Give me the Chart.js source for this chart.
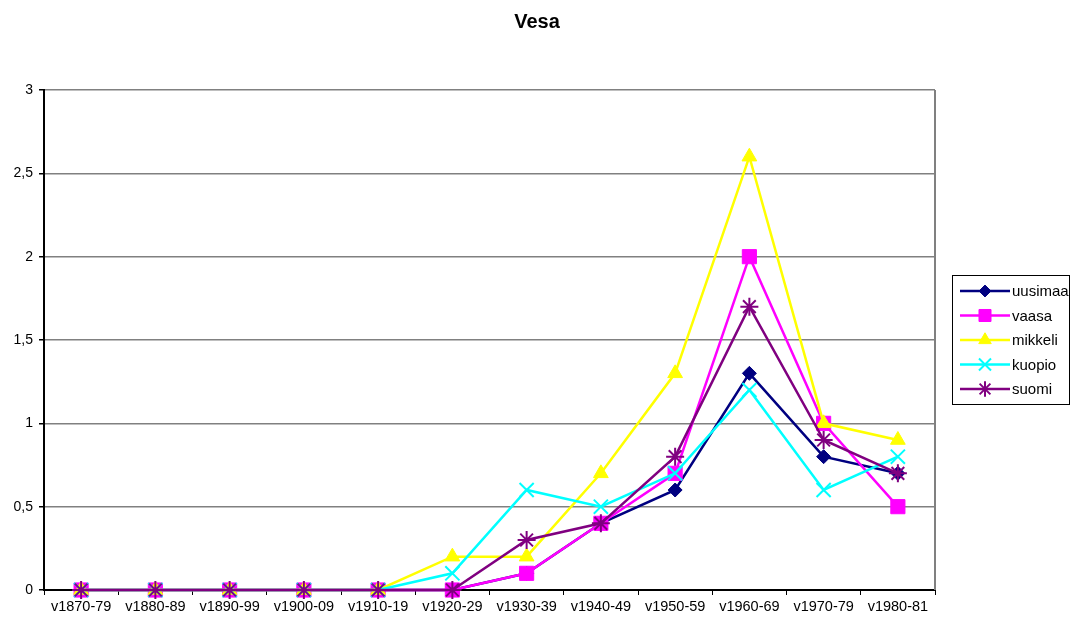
<!DOCTYPE html>
<html>
<head>
<meta charset="utf-8">
<title>Vesa</title>
<script src="https://cdn.jsdelivr.net/npm/chart.js@4/dist/chart.umd.min.js"></script>
<style>
  html, body { margin: 0; padding: 0; background: #fff; }
  #wrap { width: 1074px; height: 619px; }
</style>
</head>
<body>
<div id="wrap"><canvas id="vesaChart" width="1074" height="619"></canvas></div>
<script>
var categories = ["v1870-79", "v1880-89", "v1890-99", "v1900-09", "v1910-19", "v1920-29",
                  "v1930-39", "v1940-49", "v1950-59", "v1960-69", "v1970-79", "v1980-81"];
var uusimaa = [0, 0, 0, 0, 0, 0, 0.1, 0.4, 0.6, 1.3, 0.8, 0.7];
var vaasa   = [0, 0, 0, 0, 0, 0, 0.1, 0.4, 0.7, 2.0, 1.0, 0.5];
var mikkeli = [0, 0, 0, 0, 0, 0.2, 0.2, 0.7, 1.3, 2.6, 1.0, 0.9];
var kuopio  = [0, 0, 0, 0, 0, 0.1, 0.6, 0.5, 0.7, 1.2, 0.6, 0.8];
var suomi   = [0, 0, 0, 0, 0, 0, 0.3, 0.4, 0.8, 1.7, 0.9, 0.7];
var yTicks  = [0, 0.5, 1, 1.5, 2, 2.5, 3];

var FONT = "'Liberation Sans', Arial, sans-serif";

function series(label, data, color, style, radius, order) {
  return {
    label: label,
    data: data,
    borderColor: color,
    backgroundColor: color,
    borderWidth: 2.5,
    pointStyle: style,
    pointRadius: radius,
    pointHoverRadius: radius,
    pointBorderColor: color,
    pointBackgroundColor: color,
    pointBorderWidth: (style === 'crossRot' || style === 'star') ? 2 : 1,
    tension: 0,
    clip: false,
    order: order
  };
}

// boxed legend on the right: short line with the series marker, then the name
var sideLegend = {
  id: 'sideLegend',
  afterDraw: function(chart) {
    var ctx = chart.ctx;
    var x0 = chart.chartArea.right + 17, y0 = 275, w = 117, h = 129;
    ctx.save();
    ctx.strokeStyle = '#000';
    ctx.lineWidth = 1;
    ctx.strokeRect(x0 + 0.5, y0 + 0.5, w, h);
    ctx.font = '15px ' + FONT;
    ctx.textBaseline = 'middle';
    chart.data.datasets.forEach(function(ds, i) {
      var y = y0 + 16 + i * 24.5;
      ctx.strokeStyle = ds.borderColor;
      ctx.lineWidth = 2.5;
      ctx.beginPath();
      ctx.moveTo(x0 + 8, y);
      ctx.lineTo(x0 + 58, y);
      ctx.stroke();
      ctx.fillStyle = ds.pointBackgroundColor;
      ctx.strokeStyle = ds.pointBorderColor;
      ctx.lineWidth = ds.pointBorderWidth;
      Chart.helpers.drawPoint(ctx, {
        pointStyle: ds.pointStyle,
        radius: ds.pointRadius * 0.85,
        rotation: 0,
        borderWidth: ds.pointBorderWidth
      }, x0 + 33, y);
      ctx.fillStyle = '#000';
      ctx.fillText(ds.label, x0 + 60, y + 1);
    });
    ctx.restore();
  }
};

// grey frame line on the right edge of the plot
var plotFrame = {
  id: 'plotFrame',
  beforeDatasetsDraw: function(chart) {
    var a = chart.chartArea, ctx = chart.ctx;
    ctx.save();
    ctx.strokeStyle = '#808080';
    ctx.lineWidth = 2;
    ctx.beginPath();
    ctx.moveTo(a.right, a.top);
    ctx.lineTo(a.right, a.bottom);
    ctx.stroke();
    ctx.restore();
  }
};

new Chart(document.getElementById('vesaChart').getContext('2d'), {
  type: 'line',
  data: {
    labels: categories,
    datasets: [
      series('uusimaa', uusimaa, '#000080', 'rectRot', 7, 5),
      series('vaasa', vaasa, '#FF00FF', 'rect', 10, 4),
      series('mikkeli', mikkeli, '#FFFF00', 'triangle', 8.5, 3),
      series('kuopio', kuopio, '#00FFFF', 'crossRot', 10, 2),
      series('suomi', suomi, '#800080', 'star', 9, 1)
    ]
  },
  options: {
    responsive: false,
    devicePixelRatio: 1,
    animation: false,
    layout: { padding: 0 },
    plugins: {
      legend: { display: false },
      tooltip: { enabled: false },
      title: {
        display: true,
        text: 'Vesa',
        color: '#000',
        font: { family: FONT, size: 20, weight: 'bold' },
        padding: { top: 10, bottom: 56 }
      }
    },
    scales: {
      x: {
        type: 'category',
        offset: true,
        grid: {
          offset: true,
          drawOnChartArea: false,
          drawTicks: true,
          tickLength: 5,
          tickColor: '#000'
        },
        border: { color: '#000', width: 2 },
        ticks: {
          color: '#000',
          font: { family: FONT, size: 14.5 },
          maxRotation: 0,
          autoSkip: false,
          padding: 3
        },
        afterFit: function(scale) { scale.height = 29; }
      },
      y: {
        min: 0,
        max: 3,
        afterBuildTicks: function(scale) {
          scale.ticks = yTicks.map(function(v) { return { value: v }; });
        },
        ticks: {
          color: '#000',
          font: { family: FONT, size: 14 },
          padding: 6,
          callback: function(v) { return String(v).replace('.', ','); }
        },
        grid: {
          color: '#808080',
          lineWidth: 1.5,
          tickLength: 5,
          tickColor: '#000'
        },
        border: { color: '#000', width: 2 },
        afterFit: function(scale) { scale.width = 44; }
      },
      // empty axis on the right that keeps room for the legend box
      legendSpace: {
        type: 'linear',
        position: 'right',
        display: true,
        grid: { display: false, drawTicks: false },
        border: { display: false },
        ticks: { display: false },
        afterFit: function(scale) { scale.width = 139; }
      }
    }
  },
  plugins: [plotFrame, sideLegend]
});
</script>
</body>
</html>
